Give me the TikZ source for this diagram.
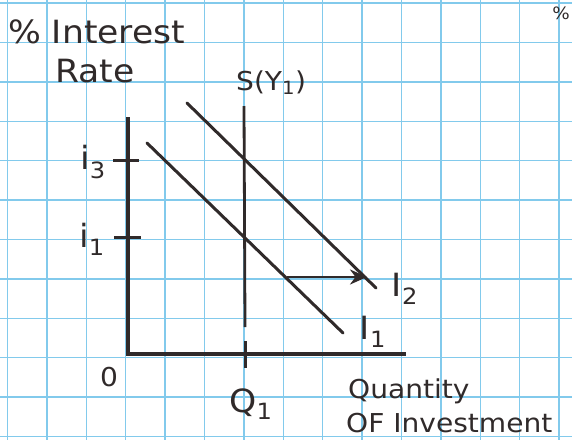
\documentclass[tikz,border=0pt]{standalone}
\usepackage{fontspec}
\setmainfont{DejaVu Sans}[FakeStretch=1.08]
\usetikzlibrary{arrows.meta, positioning}
\definecolor{paperBlue}{RGB}{130,202,236}
\definecolor{inkGray}{RGB}{48,42,42}
\tikzset{
    >=Stealth,
    % Paper & ink
    gridLine/.style={draw=paperBlue, line width=1.4pt},
    axisLine/.style={draw=inkGray, line width=3.6pt},
    demandLine/.style={draw=inkGray, line width=3pt, line cap=round},
    supplyLine/.style={draw=inkGray, line width=2.8pt},
    tickMark/.style={draw=inkGray, line width=3pt},
    shiftArrow/.style={draw=inkGray, line width=2.6pt, arrows={-Stealth[length=17pt, width=15pt]}},
    % Labels
    lbl/.style={text=inkGray, inner sep=0pt, font=\fontsize{26}{30}\selectfont},
    bigLbl/.style={lbl, font=\fontsize{32}{36}\selectfont},
    tinyLbl/.style={lbl, font=\fontsize{17}{20}\selectfont}
}

\begin{document}
\begin{tikzpicture}[x=1pt, y=-1pt]
\useasboundingbox (0,0) rectangle (572,440);
\fill[white] (0,0) rectangle (572,440);

% graph paper
\foreach \gx in {7.5, 46.9, ..., 572} \draw[gridLine] (\gx,0) -- (\gx,440);
\foreach \gy in {3, 42.4, ..., 440} \draw[gridLine] (0,\gy) -- (572,\gy);

% axes
\coordinate (yTop) at (128,117);
\coordinate (origin) at (128,354);
\coordinate (xEnd) at (406,354);
\draw[axisLine] (yTop) -- (origin) -- (xEnd);

% rate ticks
\coordinate (i3L) at (113,160);
\coordinate (i3R) at (139,160);
\coordinate (i1L) at (114,237);
\coordinate (i1R) at (141,237);
\draw[tickMark] (i3L) -- (i3R);
\draw[tickMark] (i1L) -- (i1R);

% savings supply
\coordinate (sTop) at (244,106);
\coordinate (sBot) at (245,327);
\coordinate (qTop) at (245,341);
\coordinate (qBot) at (245,368);
\draw[supplyLine] (sTop) -- (sBot);
\draw[tickMark] (qTop) -- (qBot);

% investment demand
\coordinate (inv1Top) at (147,143);
\coordinate (inv1Bot) at (343,333);
\coordinate (inv2Top) at (187,103);
\coordinate (inv2Bot) at (376,288);
\draw[demandLine] (inv1Top) -- (inv1Bot);
\draw[demandLine] (inv2Top) -- (inv2Bot);

\coordinate (shiftStart) at (287,277);
\coordinate (shiftEnd) at (367,277);
\draw[shiftArrow] (shiftStart) -- (shiftEnd);

% labels
\node[bigLbl, anchor=base west] (pctLabel) at (8,43) {\% Interest};
\node[bigLbl, anchor=base west] (rateLabel) at (55,82) {Rate};
\node[lbl, anchor=base west] (sLabel) at (236,90) {S(Y\textsubscript{1})};
\node[bigLbl] (i3Label) at (93,162) {i\textsubscript{3}};
\node[bigLbl] (i1Label) at (92,239) {i\textsubscript{1}};
\node[lbl] (zeroLabel) at (109,377) {0};
\node[bigLbl] (q1Label) at (251,404) {Q\textsubscript{1}};
\node[bigLbl] (inv2Label) at (405,289) {I\textsubscript{2}};
\node[bigLbl] (inv1Label) at (373,332) {I\textsubscript{1}};
\node[lbl, anchor=base west] (qtyLabel) at (348,398) {Quantity};
\node[lbl, anchor=base west] (ofInvLabel) at (346,432) {OF Investment};
\node[tinyLbl, anchor=north east] (edgeLabel) at (570,7) {\%};

\end{tikzpicture}
\end{document}
